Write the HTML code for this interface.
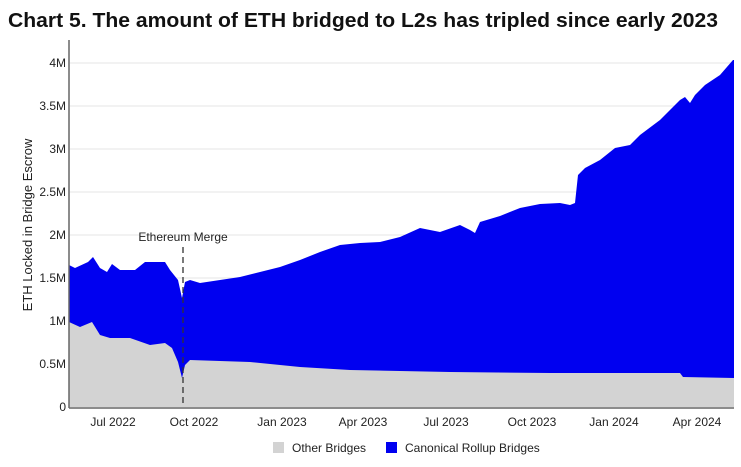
<!DOCTYPE html>
<html><head><style>
body{margin:0;background:#fff;width:741px;height:462px;overflow:hidden;font-family:"Liberation Sans",sans-serif}
</style></head><body>
<svg width="741" height="462" xmlns="http://www.w3.org/2000/svg" font-family="Liberation Sans, sans-serif">
<text x="8" y="27" font-size="20" font-weight="bold" fill="#111" textLength="710" lengthAdjust="spacingAndGlyphs">Chart 5. The amount of ETH bridged to L2s has tripled since early 2023</text>
<g stroke="#e6e6e6" stroke-width="1">
<line x1="70" x2="734" y1="63" y2="63"/><line x1="70" x2="734" y1="106" y2="106"/><line x1="70" x2="734" y1="149" y2="149"/><line x1="70" x2="734" y1="192" y2="192"/><line x1="70" x2="734" y1="235" y2="235"/><line x1="70" x2="734" y1="278" y2="278"/><line x1="70" x2="734" y1="321" y2="321"/><line x1="70" x2="734" y1="364" y2="364"/>
</g>
<path fill="#0000f0" d="M69,407 L69,265 75,268 88,262 93,257 100,268 107,272 112,264 120,270 135,270 145,262 160,262 165,262 170,270 178,280 182,298 185,282 190,280 200,283 220,280 240,277 260,272 280,267 300,260 320,252 340,245 360,243 380,242 400,237 420,228 440,232 460,225 470,230 475,233 480,222 500,216 520,208 540,204 560,203 570,205 575,203 578,175 585,168 600,160 615,148 630,145 640,135 660,120 670,110 680,100 685,97 690,103 695,95 705,85 720,75 733,60 734,60 734,407 Z"/>
<path fill="#d3d3d3" d="M69,407 L69,322 80,327 92,322 100,335 110,338 130,338 150,345 165,343 172,348 178,362 182,378 185,365 190,360 250,362 300,367 350,370 450,372 550,373 680,373 683,377 734,378 734,407 Z"/>
<line x1="183" x2="183" y1="247" y2="407" stroke="#333" stroke-width="1.3" stroke-dasharray="6,4"/>
<text x="183" y="241" font-size="12" text-anchor="middle" fill="#222">Ethereum Merge</text>
<line x1="69" x2="69" y1="40" y2="408" stroke="#666" stroke-width="1.5"/>
<line x1="69" x2="734" y1="408" y2="408" stroke="#666" stroke-width="1.5"/>
<g font-size="12" fill="#222" text-anchor="end">
<text x="66" y="67">4M</text><text x="66" y="110">3.5M</text><text x="66" y="153">3M</text><text x="66" y="196">2.5M</text><text x="66" y="239">2M</text><text x="66" y="282">1.5M</text><text x="66" y="325">1M</text><text x="66" y="368">0.5M</text><text x="66" y="411">0</text>
</g>
<g font-size="12" fill="#222" text-anchor="middle">
<text x="113" y="426">Jul 2022</text><text x="194" y="426">Oct 2022</text><text x="282" y="426">Jan 2023</text><text x="363" y="426">Apr 2023</text><text x="446" y="426">Jul 2023</text><text x="532" y="426">Oct 2023</text><text x="614" y="426">Jan 2024</text><text x="697" y="426">Apr 2024</text>
</g>
<text transform="translate(32,225) rotate(-90)" font-size="13" fill="#222" text-anchor="middle">ETH Locked in Bridge Escrow</text>
<rect x="273" y="442" width="11" height="11" fill="#d3d3d3"/>
<text x="292" y="452" font-size="12" fill="#222">Other Bridges</text>
<rect x="386" y="442" width="11" height="11" fill="#0000f0"/>
<text x="405" y="452" font-size="12" fill="#222">Canonical Rollup Bridges</text>
</svg>
</body></html>
